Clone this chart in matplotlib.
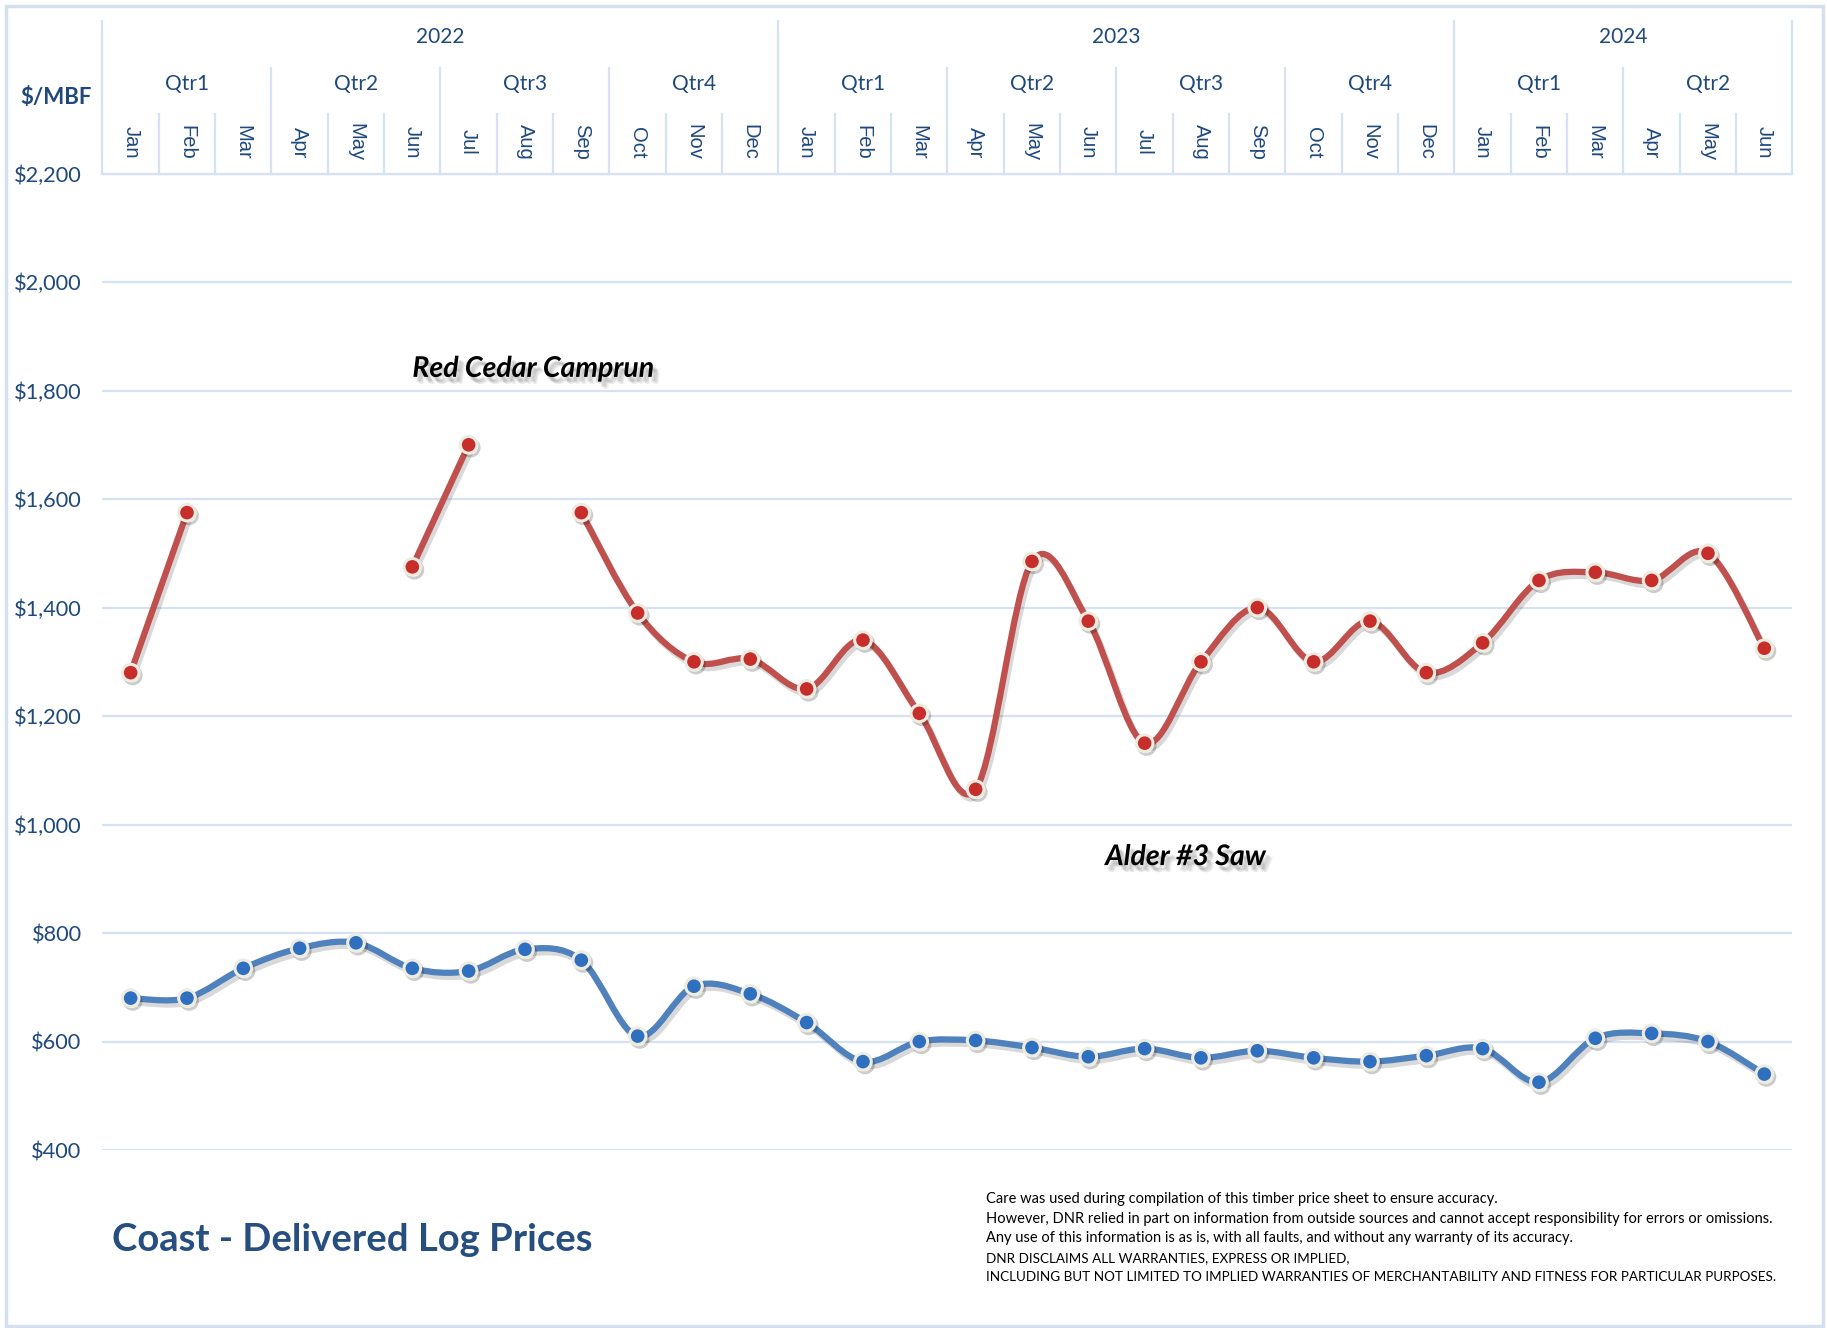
import numpy as np
import matplotlib.pyplot as plt
import matplotlib.transforms as mtransforms
import matplotlib.patheffects as pe
from matplotlib.path import Path
from matplotlib.patches import PathPatch, Rectangle

plt.rcParams['font.family'] = ['Lato', 'DejaVu Sans']

# --- data -----------------------------------------------------------------
months = ['Jan', 'Feb', 'Mar', 'Apr', 'May', 'Jun', 'Jul', 'Aug', 'Sep', 'Oct', 'Nov', 'Dec'] * 2 + \
         ['Jan', 'Feb', 'Mar', 'Apr', 'May', 'Jun']
quarters = ['Qtr1', 'Qtr2', 'Qtr3', 'Qtr4', 'Qtr1', 'Qtr2', 'Qtr3', 'Qtr4', 'Qtr1', 'Qtr2']
years = ['2022', '2023', '2024']
months_per_year = [12, 12, 6]

red_cedar = [1280, 1575, None, None, None, 1475, 1700, None, 1575, 1390, 1300, 1305,
             1250, 1340, 1205, 1065, 1485, 1375, 1150, 1300, 1400, 1300, 1375, 1280,
             1335, 1450, 1465, 1450, 1500, 1325]
alder = [680, 680, 735, 772, 782, 735, 730, 770, 750, 610, 702, 688,
         635, 563, 600, 602, 589, 572, 587, 570, 583, 570, 563, 574,
         587, 525, 606, 615, 600, 540]

yticks = [400, 600, 800, 1000, 1200, 1400, 1600, 1800, 2000, 2200]

disclaimer = [
    'Care was used during compilation of this timber price sheet to ensure accuracy.',
    'However, DNR relied in part on information from outside sources and cannot accept responsibility for errors or omissions.',
    'Any use of this information is as is, with all faults, and without any warranty of its accuracy.',
    'DNR DISCLAIMS ALL WARRANTIES, EXPRESS OR IMPLIED,',
    'INCLUDING BUT NOT LIMITED TO IMPLIED WARRANTIES OF MERCHANTABILITY AND FITNESS FOR PARTICULAR PURPOSES.',
]

NAVY = '#1F497D'
GRID = '#D6E2F3'


def smooth_segments(values):
    # split on gaps, build excel-like smoothed bezier paths
    x = np.arange(len(values))
    runs, cur = [], []
    for i, v in enumerate(values):
        if v is None:
            if cur:
                runs.append(cur)
            cur = []
        else:
            cur.append(i)
    if cur:
        runs.append(cur)
    paths = []
    for run in runs:
        pts = np.column_stack([x[run], [values[i] for i in run]]).astype(float)
        verts, codes = [pts[0]], [Path.MOVETO]
        n = len(pts)
        for i in range(n - 1):
            p0, p1 = pts[max(i - 1, 0)], pts[i]
            p2, p3 = pts[i + 1], pts[min(i + 2, n - 1)]
            verts += [p1 + (p2 - p0) / 6, p2 - (p3 - p1) / 6, p2]
            codes += [Path.CURVE4] * 3
        paths.append(Path(verts, codes))
    return paths


fig = plt.figure(figsize=(18.27, 13.28), dpi=100)
ax = fig.add_axes([0.0561, 0.134, 0.925, 0.7353])

n = len(months)
xs = np.arange(n)

for values, line_c, face_c in [(red_cedar, '#C0504D', '#C62D2B'), (alder, '#4F81BD', '#2F6FC0')]:
    for p in smooth_segments(values):
        patch = PathPatch(p, fill=False, ec=line_c, lw=4.5, capstyle='round', joinstyle='round', zorder=3,
                          path_effects=[pe.SimpleLineShadow(offset=(2, -3), alpha=0.15), pe.Normal()])
        ax.add_patch(patch)
    yv = np.array([np.nan if v is None else v for v in values], dtype=float)
    ax.plot(xs, yv, 'o', ms=12, mfc=face_c, mec='#EEECE1', mew=2.2, zorder=4, clip_on=False,
            path_effects=[pe.SimpleLineShadow(offset=(1.5, -2), alpha=0.2), pe.Normal()])

ax.set_xlim(-0.5, n - 0.5)
ax.set_ylim(400, 2200)
ax.set_yticks(yticks)
ax.set_yticklabels(['${:,}'.format(v) for v in yticks], color=NAVY, fontsize=15.7)
ax.tick_params(axis='y', length=0, pad=15)
ax.set_xticks([])
ax.grid(axis='y', color=GRID, lw=1.6)
ax.set_axisbelow(True)
for s in ax.spines.values():
    s.set_visible(False)

# --- multi-level header -----------------------------------------------------
trans = mtransforms.blended_transform_factory(ax.transData, ax.transAxes)
y_month_top, y_qtr_top, y_year_top = 1.061, 1.1086, 1.156
line_kw = dict(color=GRID, lw=1.6, transform=trans, clip_on=False)

ax.plot([-0.5, n - 0.5], [1, 1], **line_kw)
for k in range(n + 1):
    top = y_month_top
    if k % 3 == 0:
        top = y_qtr_top
    if k in (0, 12, 24, n):
        top = y_year_top
    ax.plot([k - 0.5, k - 0.5], [1, top], **line_kw)

for i, m in enumerate(months):
    ax.text(i, 1.032, m, transform=trans, rotation=270, ha='center', va='center',
            fontsize=14.5, color=NAVY, family=['Liberation Sans', 'DejaVu Sans'])
for q, label in enumerate(quarters):
    ax.text(q * 3 + 1, 1.092, label, transform=trans, ha='center', va='center', fontsize=15, color=NAVY)
start = 0
for yr, cnt in zip(years, months_per_year):
    ax.text(start + (cnt - 1) / 2, 1.1395, yr, transform=trans, ha='center', va='center', fontsize=15, color=NAVY)
    start += cnt

# --- labels -------------------------------------------------------------------
shadow = []
for dx, dy in [(2, -3), (3, -4), (4, -5), (3, -3), (4, -4), (2, -4), (5, -5)]:
    shadow.append(pe.SimplePatchShadow(offset=(dx, dy), shadow_rgbFace='#606060', alpha=0.07))
shadow.append(pe.Normal())
ax.text(5.0, 1840, 'Red Cedar Camprun', ha='left', va='center', fontsize=20.5, fontweight='bold',
        style='italic', color='black', path_effects=shadow)
ax.text(17.3, 940, 'Alder #3 Saw', ha='left', va='center', fontsize=20.5, fontweight='bold',
        style='italic', color='black', path_effects=shadow)

fig.text(56 / 1827, 1 - 97 / 1328, '$/MBF', ha='center', va='center', fontsize=16, fontweight='bold', color=NAVY)
fig.text(112 / 1827, 1 - 1240 / 1328, 'Coast - Delivered Log Prices', ha='left', va='center',
         fontsize=27.5, fontweight='bold', color='#264E7F')
for i, line in enumerate(disclaimer):
    size = 9.75 if line.isupper() else 10.5
    fig.text(986 / 1827, 1 - (1199 + i * 19.6) / 1328, line, ha='left', va='center', fontsize=size, color='black')

fig.patches.append(Rectangle((0.0033, 0.0015), 0.9945, 0.9943, transform=fig.transFigure,
                             fill=False, ec='#D5DFEE', lw=2.5))

fig.savefig('out.png', dpi=100, facecolor='white')
